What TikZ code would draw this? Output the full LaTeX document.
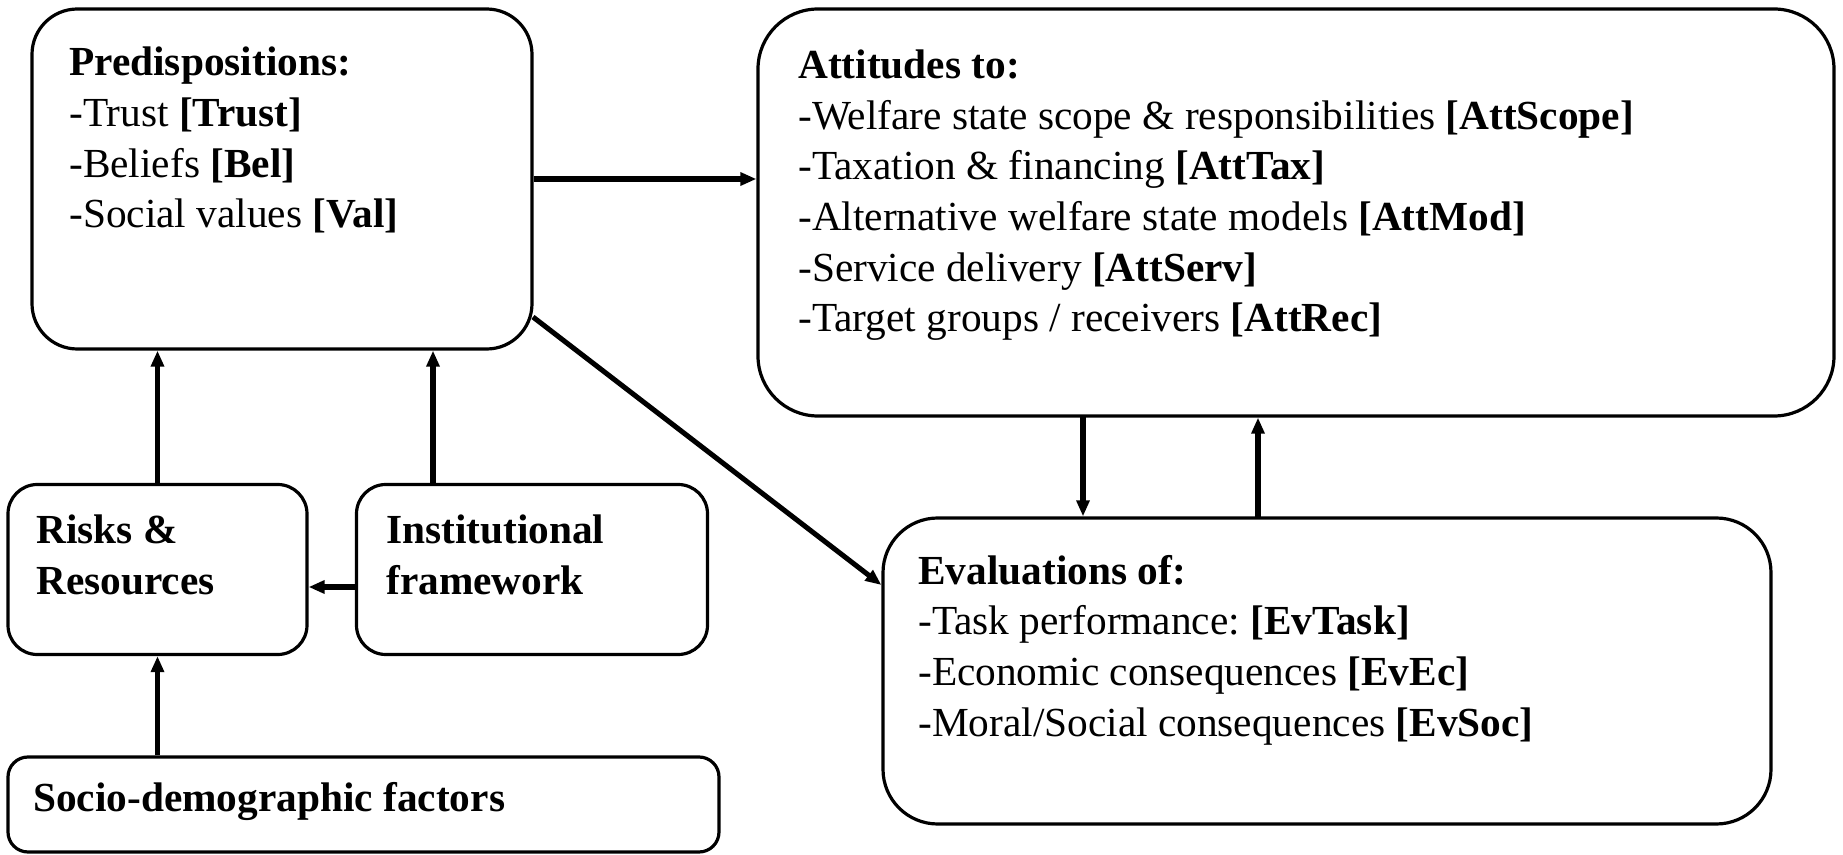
\documentclass[tikz,border=0pt]{standalone}
\usepackage{fontspec}
\setmainfont{Liberation Serif}
\usetikzlibrary{arrows.meta}
\begin{document}
\frenchspacing
\begin{tikzpicture}[x=0.75pt,y=-0.75pt,
  box/.style={draw=black, line width=2.4pt, fill=white, inner sep=0pt},
  arr/.style={line width=3.8pt, -{Triangle[length=12pt,width=9.5pt]}},
  txt/.style={inner sep=0pt, align=left, anchor=base west, font=\fontsize{31}{38}\selectfont}]
\path[use as bounding box] (0,0) rectangle (1843,855);

% boxes
\node[box, rounded corners=34pt, minimum width=375pt, minimum height=255pt] (pred) at (282,179) {};
\node[box, rounded corners=45pt, minimum width=807pt, minimum height=305.25pt] (att) at (1296,212.5) {};
\node[box, rounded corners=22pt, minimum width=224.25pt, minimum height=127.5pt] (risk) at (157.5,569.5) {};
\node[box, rounded corners=22pt, minimum width=263.25pt, minimum height=127.5pt] (inst) at (532,569.5) {};
\node[box, rounded corners=15pt, minimum width=533.25pt, minimum height=71.25pt] (socio) at (363.5,804.5) {};
\node[box, rounded corners=41pt, minimum width=666pt, minimum height=229.5pt] (eval) at (1327,671) {};

% texts (anchored at the baseline of their last line)
\node[txt] (predT) at (69,228) {\textbf{Predispositions:}\\-Trust \textbf{[Trust]}\\-Beliefs \textbf{[Bel]}\\-Social values \textbf{[Val]}};
\node[txt] (attT) at (798,332) {\textbf{Attitudes to:}\\-Welfare state scope \& responsibilities \textbf{[AttScope]}\\-Taxation \& financing \textbf{[AttTax]}\\-Alternative welfare state models \textbf{[AttMod]}\\-Service delivery \textbf{[AttServ]}\\-Target groups / receivers \textbf{[AttRec]}};
\node[txt] (evalT) at (918,736) {\textbf{Evaluations of:}\\-Task performance: \textbf{[EvTask]}\\-Economic consequences \textbf{[EvEc]}\\-Moral/Social consequences \textbf{[EvSoc]}};
\node[txt, font=\fontsize{31}{38}\selectfont\bfseries] (riskT) at (36,594) {Risks \&\\Resources};
\node[txt, font=\fontsize{31}{38}\selectfont\bfseries] (instT) at (386,594) {Institutional\\framework};
\node[txt, font=\fontsize{31}{38}\selectfont\bfseries] (socioT) at (33,811) {Socio-demographic factors};

% connector end points
\coordinate (pd1) at (533,317);
\coordinate (ev1) at (eval.west |- 0,585);
\coordinate (in1) at (433,484);
\coordinate (in2) at (inst.west |- 0,587);
\coordinate (at1) at (1083,416);
\coordinate (ev2) at (1258,518);

% arrows
\draw[arr] (pred.east) -- (pred.east -| att.west);
\draw[arr] (pd1) -- (ev1);
\draw[arr] (risk.north) -- (risk.north |- pred.south);
\draw[arr] (in1) -- (in1 |- pred.south);
\draw[arr] (in2) -- (in2 -| risk.east);
\draw[arr] (risk.south |- socio.north) -- (risk.south);
\draw[arr] (at1) -- (at1 |- eval.north);
\draw[arr] (ev2) -- (ev2 |- att.south);
\end{tikzpicture}
\end{document}
